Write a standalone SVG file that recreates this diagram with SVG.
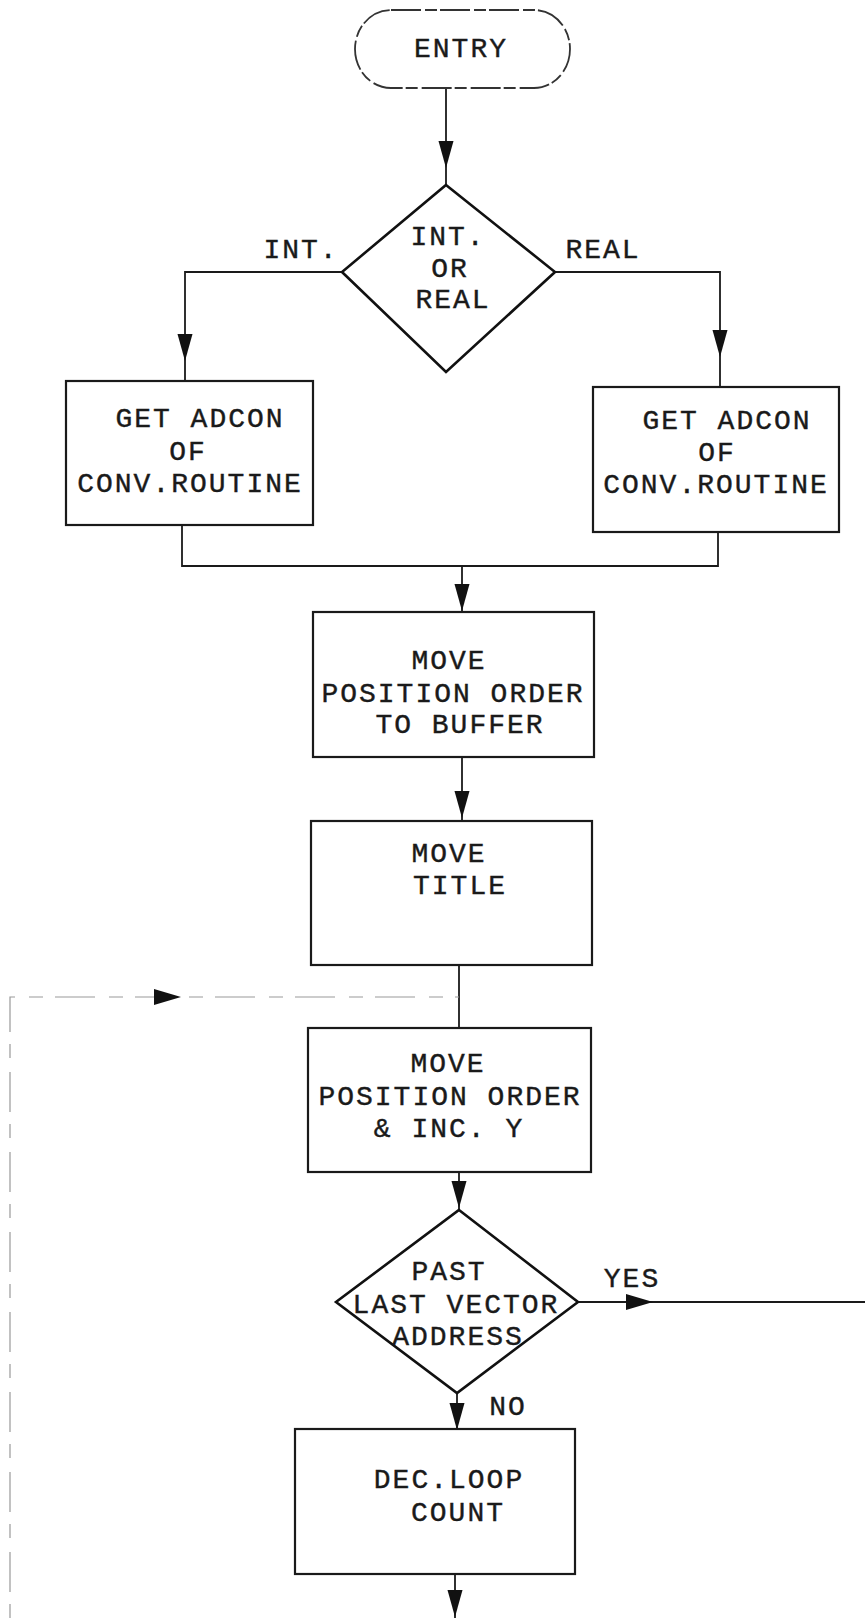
<svg xmlns="http://www.w3.org/2000/svg" xmlns:xlink="http://www.w3.org/1999/xlink" width="865" height="1618" viewBox="0 0 865 1618">
<style>
  .bg{fill:#ffffff}
  .box{fill:none;stroke:#1a1a1a;stroke-width:2.2}
  .dia{fill:none;stroke:#111;stroke-width:2.6;stroke-linejoin:miter}
  .term{fill:none;stroke:#333;stroke-width:1.8;stroke-dasharray:30 4 12 3}
  .con{fill:none;stroke:#1a1a1a;stroke-width:1.8}
  .faint{fill:none;stroke:#999;stroke-width:1.2;stroke-dasharray:14 12 40 14}
  .ah{fill:#111}
  text{font-family:"Liberation Mono","Courier New",monospace;font-size:28px;letter-spacing:2px;fill:#1a1a1a;stroke:#1a1a1a;stroke-width:0.4;text-anchor:middle}
</style>
<defs>
  <path id="ahd" d="M0,0 L-7.5,-27 L7.5,-27 Z"/>
  <path id="ahr" d="M0,0 L-27,-8 L-27,8 Z"/>
</defs>
<rect class="bg" x="0" y="0" width="865" height="1618"/>

<g id="connectors">
  <line class="con" x1="446" y1="88" x2="446" y2="185"/>
  <use class="ah" xlink:href="#ahd" x="446" y="168"/>

  <polyline class="con" points="342,272 185,272 185,381"/>
  <use class="ah" xlink:href="#ahd" x="185" y="361"/>
  <text x="301" y="258">INT.</text>

  <polyline class="con" points="555,272 720,272 720,387"/>
  <use class="ah" xlink:href="#ahd" x="720" y="357"/>
  <text x="603" y="258">REAL</text>

  <polyline class="con" points="182,525 182,566 718,566 718,532"/>
  <line class="con" x1="462" y1="566" x2="462" y2="612"/>
  <use class="ah" xlink:href="#ahd" x="462" y="611"/>

  <line class="con" x1="462" y1="757" x2="462" y2="821"/>
  <use class="ah" xlink:href="#ahd" x="462" y="818"/>

  <line class="con" x1="459" y1="965" x2="459" y2="1028"/>

  <polyline class="faint" points="10,1618 10,997 459,997"/>
  <use class="ah" xlink:href="#ahr" x="181" y="997"/>

  <line class="con" x1="459" y1="1172" x2="459" y2="1210"/>
  <use class="ah" xlink:href="#ahd" x="459" y="1208"/>

  <line class="con" x1="578" y1="1302" x2="865" y2="1302"/>
  <use class="ah" xlink:href="#ahr" x="653" y="1302"/>
  <text x="632" y="1287">YES</text>

  <line class="con" x1="457" y1="1393" x2="457" y2="1429"/>
  <use class="ah" xlink:href="#ahd" x="457" y="1430"/>
  <text x="508" y="1415">NO</text>

  <line class="con" x1="455" y1="1574" x2="455" y2="1618"/>
  <use class="ah" xlink:href="#ahd" x="455" y="1617"/>
</g>

<g id="entry">
  <rect class="term" x="355" y="10" width="215" height="78" rx="36" ry="39"/>
  <text x="461" y="57">ENTRY</text>
</g>

<g id="decision-int-real">
  <polygon class="dia" points="446,185 555,272 446,372 342,272"/>
  <text x="448" y="245">INT.</text>
  <text x="450" y="277">OR</text>
  <text x="453" y="308">REAL</text>
</g>

<g id="adcon-int">
  <rect class="box" x="66" y="381" width="247" height="144"/>
  <text x="200" y="427">GET ADCON</text>
  <text x="188" y="460">OF</text>
  <text x="190" y="492">CONV.ROUTINE</text>
</g>

<g id="adcon-real">
  <rect class="box" x="593" y="387" width="246" height="145"/>
  <text x="727" y="429">GET ADCON</text>
  <text x="717" y="461">OF</text>
  <text x="716" y="493">CONV.ROUTINE</text>
</g>

<g id="move-pos-buffer">
  <rect class="box" x="313" y="612" width="281" height="145"/>
  <text x="449" y="669">MOVE</text>
  <text x="453" y="702">POSITION ORDER</text>
  <text x="460" y="733">TO BUFFER</text>
</g>

<g id="move-title">
  <rect class="box" x="311" y="821" width="281" height="144"/>
  <text x="449" y="862">MOVE</text>
  <text x="460" y="894">TITLE</text>
</g>

<g id="move-pos-inc">
  <rect class="box" x="308" y="1028" width="283" height="144"/>
  <text x="448" y="1072">MOVE</text>
  <text x="450" y="1105">POSITION ORDER</text>
  <text x="449" y="1137">&amp; INC. Y</text>
</g>

<g id="decision-past">
  <polygon class="dia" points="459,1210 578,1302 457,1393 336,1302"/>
  <text x="449" y="1280">PAST</text>
  <text x="456" y="1313">LAST VECTOR</text>
  <text x="458" y="1345">ADDRESS</text>
</g>

<g id="dec-loop">
  <rect class="box" x="295" y="1429" width="280" height="145"/>
  <text x="449" y="1488">DEC.LOOP</text>
  <text x="458" y="1521">COUNT</text>
</g>
</svg>
